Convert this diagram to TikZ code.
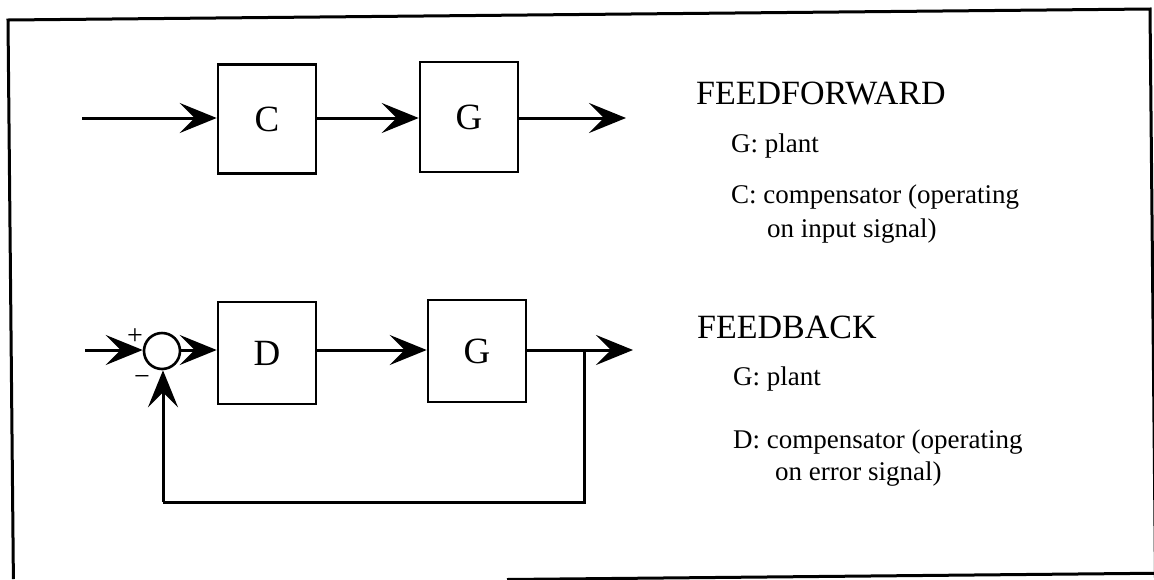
\documentclass[tikz,border=0pt]{standalone}
\usepackage{fontspec}
\setmainfont{Liberation Serif}
\usetikzlibrary{arrows.meta}
\begin{document}
\begin{tikzpicture}[x=1pt,y=-1pt,
  blockbox/.style={draw, line width=2.6pt, minimum width=98pt, minimum height=106pt,
    inner sep=0pt, font=\fontsize{37}{42}\selectfont},
  sumnode/.style={draw, circle, line width=2.6pt, minimum size=36pt, inner sep=0pt},
  signal/.style={line width=3pt, -{Stealth[length=37pt,width=30pt,inset=15pt]}},
  wire/.style={line width=3pt},
  sign/.style={inner sep=0pt, font=\fontsize{28}{30}\selectfont},
  heading/.style={anchor=base west, inner sep=0pt, font=\fontsize{34}{38}\selectfont},
  note/.style={anchor=base west, inner sep=0pt, font=\fontsize{27}{32}\selectfont},
  framestyle/.style={line width=3pt}]
\useasboundingbox (0,0) rectangle (1154,579);
\clip (0,0) rectangle (1154,579);

% slightly skewed outer frame
\draw[framestyle] (13.4,579) -- (8,20) -- (1150,9) -- (1155.5,579);
\draw[framestyle] (507,579.5) -- (1160,573.2);

% feedforward loop
\coordinate (in1) at (82,118);
\node[blockbox, minimum height=109pt] (C) at (267,119) {C};
\node[blockbox, minimum height=110pt] (G1) at (469,117) {G};
\coordinate (out1) at (626,118);
\draw[signal] (in1) -- (in1 -| C.west);
\draw[signal] (in1 -| C.east) -- (in1 -| G1.west);
\draw[signal] (in1 -| G1.east) -- (out1);

% feedback loop
\coordinate (in2) at (85,350);
\node[sumnode] (S) at (162,351) {};
\node[blockbox, minimum height=102pt] (D) at (267,353) {D};
\node[blockbox, minimum height=102pt] (G2) at (477,351) {G};
\coordinate (out2) at (633,350);
\coordinate (br) at (584,350);
\coordinate (fb) at (163,502);
\draw[signal] (in2) -- (in2 -| S.west);
\draw[signal] (in2 -| S.east) -- (in2 -| D.west);
\draw[signal] (in2 -| D.east) -- (in2 -| G2.west);
\draw[signal] (in2 -| G2.east) -- (out2);
\draw[wire] (br) |- (fb);
\draw[signal] (fb) -- (fb |- S.south);
\node[sign] (plus) at (135,337) {+};
\node[sign] (minus) at (142,380) {−};

% legend texts
\node[heading] (ffh) at (696,104) {FEEDFORWARD};
\node[note] (ffg) at (731,152) {G: plant};
\node[note] (ffc) at (731,203) {C: compensator (operating};
\node[note] (ffc2) at (767,237) {on input signal)};
\node[heading] (fbh) at (697,338) {FEEDBACK};
\node[note] (fbg) at (733,385) {G: plant};
\node[note] (fbd) at (733,448) {D: compensator (operating};
\node[note] (fbd2) at (775,480) {on error signal)};
\end{tikzpicture}
\end{document}
